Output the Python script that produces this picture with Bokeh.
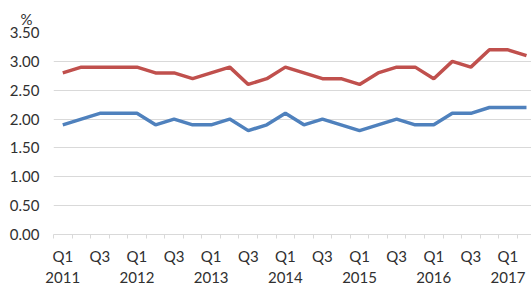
from bokeh.plotting import figure
from bokeh.models import FixedTicker, Legend, LegendItem, Title, NumeralTickFormatter, Range1d, LinearAxis
from bokeh.embed import file_html
from bokeh.resources import INLINE

quarters = ["Q1 2011", "Q2 2011", "Q3 2011", "Q4 2011",
            "Q1 2012", "Q2 2012", "Q3 2012", "Q4 2012",
            "Q1 2013", "Q2 2013", "Q3 2013", "Q4 2013",
            "Q1 2014", "Q2 2014", "Q3 2014", "Q4 2014",
            "Q1 2015", "Q2 2015", "Q3 2015", "Q4 2015",
            "Q1 2016", "Q2 2016", "Q3 2016", "Q4 2016",
            "Q1 2017", "Q2 2017"]
rate_sa = [1.9, 2.0, 2.1, 2.1, 2.1, 1.9, 2.0, 1.9, 1.9, 2.0, 1.8, 1.9, 2.1,
           1.9, 2.0, 1.9, 1.8, 1.9, 2.0, 1.9, 1.9, 2.1, 2.1, 2.2, 2.2, 2.2]
rate_resident_sa = [2.8, 2.9, 2.9, 2.9, 2.9, 2.8, 2.8, 2.7, 2.8, 2.9, 2.6, 2.7, 2.9,
                    2.8, 2.7, 2.7, 2.6, 2.8, 2.9, 2.9, 2.7, 3.0, 2.9, 3.2, 3.2, 3.1]
y_ticks = [0.0, 0.5, 1.0, 1.5, 2.0, 2.5, 3.0, 3.5]
series_names = ["Unemployment Rate: sa", "Unemployment Rate: Resident: sa"]
unit_label = "%"

FONT = "Lato"
FS = "15px"
TXT = "#303030"
GRID = "#d9d9d9"

x = list(range(len(quarters)))

p = figure(frame_width=478, frame_height=202, output_backend="svg", toolbar_location=None,
           min_border_left=53, min_border_right=0, min_border_top=32, min_border_bottom=72,
           x_range=Range1d(-0.5, len(quarters) - 0.73), y_range=Range1d(y_ticks[0], y_ticks[-1]))
p.outline_line_color = None

r1 = p.line(x, rate_sa, line_color="#4F81BD", line_width=3.5)
r2 = p.line(x, rate_resident_sa, line_color="#C0504D", line_width=3.5)

# x axis: quarter labels
q_labels = {}
y_labels = {}
for i, q in enumerate(quarters):
    qq, yy = q.split(" ")
    if i % 2 == 0:
        q_labels[i] = qq
    if qq == "Q1":
        y_labels[i] = yy
p.xaxis.ticker = FixedTicker(ticks=list(q_labels.keys()),
                             minor_ticks=[i - 0.5 for i in range(len(quarters) + 1)])
p.xaxis.major_label_overrides = q_labels
p.xaxis.major_tick_out = 0
p.xaxis.major_tick_in = 0
p.xaxis.minor_tick_out = 4
p.xaxis.minor_tick_in = 0
p.xaxis.minor_tick_line_color = GRID
p.xaxis.axis_line_color = GRID
p.xaxis.major_label_standoff = 8
p.xaxis.major_label_text_font = FONT
p.xaxis.major_label_text_font_size = FS
p.xaxis.major_label_text_color = TXT
p.xgrid.visible = False

# second x axis: year labels
yax = LinearAxis(ticker=FixedTicker(ticks=list(y_labels.keys())),
                 major_label_overrides=y_labels)
yax.axis_line_color = None
yax.major_tick_line_color = None
yax.minor_tick_line_color = None
yax.major_tick_out = 0
yax.major_tick_in = 0
yax.major_label_standoff = 4
yax.major_label_text_font = FONT
yax.major_label_text_font_size = FS
yax.major_label_text_color = TXT
p.add_layout(yax, "below")

# y axis
p.yaxis.ticker = FixedTicker(ticks=y_ticks)
p.yaxis.formatter = NumeralTickFormatter(format="0.00")
p.yaxis.axis_line_color = None
p.yaxis.major_tick_out = 0
p.yaxis.major_tick_in = 0
p.yaxis.minor_tick_line_color = None
p.yaxis.major_label_standoff = 14
p.yaxis.major_label_text_font = FONT
p.yaxis.major_label_text_font_size = FS
p.yaxis.major_label_text_color = TXT
p.ygrid.ticker = FixedTicker(ticks=y_ticks[1:])
p.ygrid.grid_line_color = GRID

p.add_layout(Title(text=unit_label, align="left", offset=-33, standoff=9,
                   text_font=FONT, text_font_size=FS, text_font_style="normal",
                   text_color=TXT), "above")

legend = Legend(items=[LegendItem(label=series_names[0], renderers=[r1]),
                       LegendItem(label=series_names[1], renderers=[r2])],
                orientation="horizontal", location="bottom_center")
legend.label_text_font = FONT
legend.label_text_font_size = FS
legend.label_text_color = TXT
legend.glyph_width = 34
legend.glyph_height = 20
legend.label_height = 20
legend.label_standoff = 2
legend.spacing = 16
legend.padding = 0
legend.margin = -72
legend.border_line_color = None
legend.background_fill_alpha = 0
p.add_layout(legend)

open("out.html", "w").write(file_html(p, INLINE))
